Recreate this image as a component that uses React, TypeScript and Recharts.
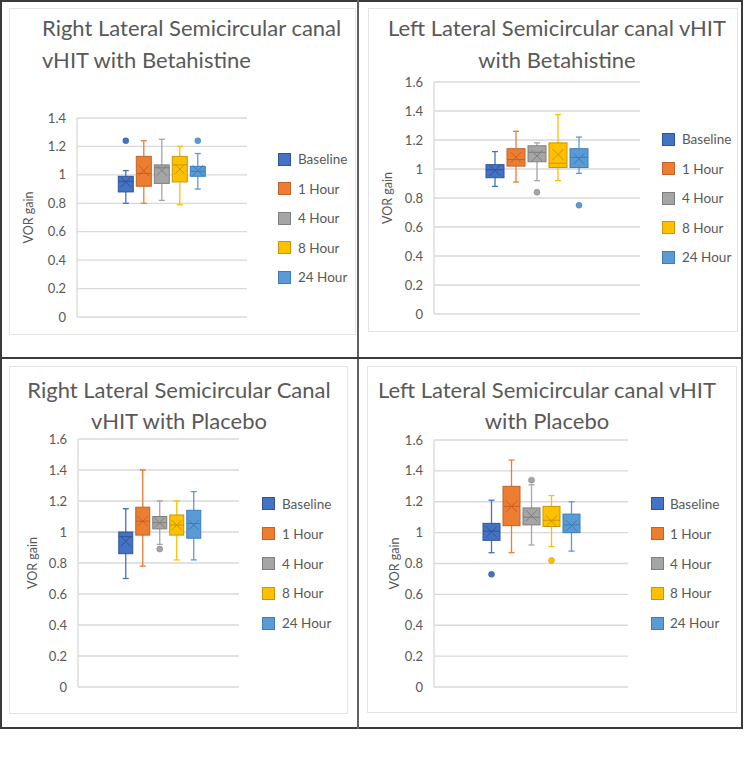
import React from 'react';
import { ComposedChart, Bar, XAxis, YAxis, CartesianGrid, Legend } from 'recharts';

const FONT = 'Lato, "Liberation Sans", sans-serif';
const TEXT = '#595959';
const GRID = '#D9D9D9';

const seriesNames = ['Baseline', '1 Hour', '4 Hour', '8 Hour', '24 Hour'];
const seriesColors = ['#4472C4', '#ED7D31', '#A5A5A5', '#FFC000', '#5B9BD5'];
const seriesEdges = ['#2F5597', '#C0622A', '#7F7F7F', '#C99700', '#3F7CB8'];

const ticks14 = [0, 0.2, 0.4, 0.6, 0.8, 1, 1.2, 1.4];
const ticks16 = [0, 0.2, 0.4, 0.6, 0.8, 1, 1.2, 1.4, 1.6];

// Right lateral canal, Betahistine
const rbLow = [0.8, 0.8, 0.82, 0.79, 0.9];
const rbQ1 = [0.88, 0.92, 0.94, 0.95, 0.99];
const rbMedian = [0.955, 1.01, 1.05, 1.07, 1.025];
const rbQ3 = [0.99, 1.13, 1.07, 1.13, 1.06];
const rbHigh = [1.03, 1.24, 1.25, 1.2, 1.15];
const rbMean = [0.95, 1.03, 1.03, 1.04, 1.03];
const rbOutliers = [[1.24], [], [], [], [1.24]];

// Left lateral canal, Betahistine
const lbLow = [0.88, 0.91, 0.92, 0.92, 0.97];
const lbQ1 = [0.94, 1.02, 1.05, 1.01, 1.01];
const lbMedian = [0.995, 1.065, 1.115, 1.04, 1.08];
const lbQ3 = [1.03, 1.14, 1.16, 1.18, 1.14];
const lbHigh = [1.12, 1.26, 1.18, 1.375, 1.22];
const lbMean = [0.99, 1.08, 1.09, 1.1, 1.07];
const lbOutliers = [[], [], [0.84], [], [0.75]];

// Right lateral canal, Placebo
const rpLow = [0.7, 0.78, 0.92, 0.82, 0.82];
const rpQ1 = [0.86, 0.98, 1.02, 0.98, 0.96];
const rpMedian = [0.97, 1.07, 1.06, 1.045, 1.055];
const rpQ3 = [1.0, 1.16, 1.1, 1.11, 1.14];
const rpHigh = [1.15, 1.4, 1.2, 1.2, 1.26];
const rpMean = [0.94, 1.07, 1.06, 1.045, 1.045];
const rpOutliers = [[], [], [0.89], [], []];

// Left lateral canal, Placebo
const lpLow = [0.87, 0.87, 0.92, 0.91, 0.88];
const lpQ1 = [0.95, 1.045, 1.05, 1.04, 1.0];
const lpMedian = [1.01, 1.17, 1.1, 1.08, 1.05];
const lpQ3 = [1.06, 1.3, 1.16, 1.17, 1.12];
const lpHigh = [1.21, 1.47, 1.31, 1.24, 1.2];
const lpMean = [1.005, 1.17, 1.11, 1.075, 1.045];
const lpOutliers = [[0.73], [], [1.34], [0.82], []];

type Stats = { low: number[]; q1: number[]; median: number[]; q3: number[]; high: number[]; mean: number[]; outliers: number[][] };

type Cfg = {
  stats: Stats;
  ticks: number[];
  yMax: number;
  area: { x: number; y: number; w: number; h: number };
  plot: { x1: number; x2: number; yTop: number; yBottom: number };
  gap: string;
  legend: { x: number; first: number; step: number; textGap: number };
  title: string[];
  titleAlign: 'left' | 'center';
  titleX: number;
  titleY: number[];
  yLabelX: number;
};

const YW = 40;

const panels: Cfg[] = [
  {
    stats: { low: rbLow, q1: rbQ1, median: rbMedian, q3: rbQ3, high: rbHigh, mean: rbMean, outliers: rbOutliers },
    ticks: ticks14,
    yMax: 1.4,
    area: { x: 9, y: 8, w: 347, h: 327 },
    plot: { x1: 77, x2: 247, yTop: 118, yBottom: 317 },
    gap: '24%',
    legend: { x: 278, first: 159, step: 29.5, textGap: 7 },
    title: ['Right Lateral Semicircular canal', 'vHIT with Betahistine'],
    titleAlign: 'left',
    titleX: 42,
    titleY: [28, 60],
    yLabelX: 28,
  },
  {
    stats: { low: lbLow, q1: lbQ1, median: lbMedian, q3: lbQ3, high: lbHigh, mean: lbMean, outliers: lbOutliers },
    ticks: ticks16,
    yMax: 1.6,
    area: { x: 368, y: 8, w: 370, h: 324 },
    plot: { x1: 434, x2: 640, yTop: 82, yBottom: 314 },
    gap: '25%',
    legend: { x: 662, first: 139, step: 29.5, textGap: 7 },
    title: ['Left Lateral Semicircular canal vHIT', 'with Betahistine'],
    titleAlign: 'center',
    titleX: 557,
    titleY: [28, 60],
    yLabelX: 387,
  },
  {
    stats: { low: rpLow, q1: rpQ1, median: rpMedian, q3: rpQ3, high: rpHigh, mean: rpMean, outliers: rpOutliers },
    ticks: ticks16,
    yMax: 1.6,
    area: { x: 9, y: 366, w: 339, h: 348 },
    plot: { x1: 78, x2: 239, yTop: 439, yBottom: 687 },
    gap: '25%',
    legend: { x: 262, first: 504, step: 29.8, textGap: 7 },
    title: ['Right Lateral Semicircular Canal', 'vHIT with Placebo'],
    titleAlign: 'center',
    titleX: 179,
    titleY: [390, 421],
    yLabelX: 32,
  },
  {
    stats: { low: lpLow, q1: lpQ1, median: lpMedian, q3: lpQ3, high: lpHigh, mean: lpMean, outliers: lpOutliers },
    ticks: ticks16,
    yMax: 1.6,
    area: { x: 367, y: 366, w: 370, h: 347 },
    plot: { x1: 434, x2: 628, yTop: 440, yBottom: 687 },
    gap: '25%',
    legend: { x: 651, first: 504, step: 29.8, textGap: 6 },
    title: ['Left Lateral Semicircular canal vHIT', 'with Placebo'],
    titleAlign: 'center',
    titleX: 547,
    titleY: [390, 421],
    yLabelX: 394,
  },
];

function makeBoxShape(stats: Stats, i: number) {
  return (props: any) => {
    const { x, y, width, height } = props;
    if (height == null || !isFinite(height) || height <= 0) return <g />;
    const v = stats.high[i];
    const base = y + height;
    const k = height / v;
    const py = (val: number) => base - val * k;
    const cx = x + width / 2;
    const color = seriesColors[i];
    const edge = seriesEdges[i];
    const capW = 3;
    const yHigh = py(stats.high[i]);
    const yLow = py(stats.low[i]);
    const yQ1 = py(stats.q1[i]);
    const yQ3 = py(stats.q3[i]);
    const yMed = py(stats.median[i]);
    const yMean = py(stats.mean[i]);
    const m = Math.min(5.5, width * 0.33);
    return (
      <g>
        <line x1={cx} x2={cx} y1={yHigh} y2={yQ3} stroke={color} strokeWidth={1.3} />
        <line x1={cx} x2={cx} y1={yQ1} y2={yLow} stroke={color} strokeWidth={1.3} />
        <line x1={cx - capW} x2={cx + capW} y1={yHigh} y2={yHigh} stroke={color} strokeWidth={1.3} />
        <line x1={cx - capW} x2={cx + capW} y1={yLow} y2={yLow} stroke={color} strokeWidth={1.3} />
        <rect x={x + 0.5} y={yQ3} width={width - 1} height={yQ1 - yQ3} fill={color} stroke={edge} strokeWidth={1} />
        <line x1={x + 0.5} x2={x + width - 0.5} y1={yMed} y2={yMed} stroke={edge} strokeWidth={1} />
        <line x1={cx - m} x2={cx + m} y1={yMean - m} y2={yMean + m} stroke={edge} strokeWidth={1} />
        <line x1={cx - m} x2={cx + m} y1={yMean + m} y2={yMean - m} stroke={edge} strokeWidth={1} />
        {stats.outliers[i].map((o, j) => (
          <circle key={j} cx={cx} cy={py(o)} r={3} fill={color} stroke={edge} strokeWidth={0.5} />
        ))}
      </g>
    );
  };
}

function Panel({ cfg }: { cfg: Cfg }) {
  const { area, plot } = cfg;
  const row: any = { name: '' };
  seriesNames.forEach((n, i) => {
    row[n] = cfg.stats.high[i];
  });
  const data = [row];
  const margin = {
    top: plot.yTop - area.y,
    bottom: area.y + area.h - plot.yBottom,
    left: plot.x1 - area.x - YW,
    right: area.x + area.w - plot.x2,
  };
  const legendContent = () => (
    <div style={{ position: 'relative', width: 90, height: cfg.legend.step * 5 }}>
      {seriesNames.map((n, i) => (
        <div
          key={n}
          style={{
            position: 'absolute',
            left: 0,
            top: i * cfg.legend.step,
            height: cfg.legend.step,
            display: 'flex',
            alignItems: 'center',
            whiteSpace: 'nowrap',
          }}
        >
          <span
            style={{
              display: 'inline-block',
              width: 13,
              height: 13,
              boxSizing: 'border-box',
              background: seriesColors[i],
              border: `1px solid ${seriesEdges[i]}`,
            }}
          />
          <span style={{ marginLeft: cfg.legend.textGap, fontSize: 13.5, color: TEXT, fontFamily: FONT }}>{n}</span>
        </div>
      ))}
    </div>
  );
  const yCenter = (plot.yTop + plot.yBottom) / 2 - area.y;
  const yLabel = () => (
    <text
      x={cfg.yLabelX - area.x}
      y={yCenter}
      transform={`rotate(-90 ${cfg.yLabelX - area.x} ${yCenter})`}
      textAnchor="middle"
      dominantBaseline="central"
      fill={TEXT}
      fontSize={12.5}
      fontFamily={FONT}
    >
      VOR gain
    </text>
  );
  return (
    <>
      <div
        style={{
          position: 'absolute',
          left: area.x,
          top: area.y,
          width: area.w,
          height: area.h,
          boxSizing: 'border-box',
          border: `1px solid #E4E4E4`,
        }}
      />
      {cfg.title.map((t, j) => (
        <div
          key={j}
          style={{
            position: 'absolute',
            left: cfg.titleAlign === 'left' ? cfg.titleX : cfg.titleX - 180,
            width: cfg.titleAlign === 'left' ? undefined : 360,
            top: cfg.titleY[j] - 14,
            height: 28,
            lineHeight: '28px',
            textAlign: cfg.titleAlign,
            fontFamily: FONT,
            fontSize: 22,
            color: TEXT,
            whiteSpace: 'nowrap',
          }}
        >
          {t}
        </div>
      ))}
      <div style={{ position: 'absolute', left: area.x, top: area.y }}>
        <ComposedChart width={area.w} height={area.h} data={data} margin={margin} barCategoryGap={cfg.gap} barGap={2}>
          <CartesianGrid horizontal vertical={false} stroke={GRID} strokeWidth={1.3} />
          <XAxis dataKey="name" hide />
          <YAxis
            width={YW}
            domain={[0, cfg.yMax]}
            ticks={cfg.ticks}
            interval={0}
            allowDataOverflow
            axisLine={{ stroke: GRID, strokeWidth: 1.3 }}
            tickLine={false}
            tickSize={0}
            tickMargin={11}
            tick={{ fill: TEXT, fontSize: 13, fontFamily: FONT }}
            tickFormatter={(v: number) => String(Number(v.toFixed(1)))}
            label={{ content: yLabel }}
          />
          <Legend
            layout="vertical"
            align="center"
            verticalAlign="middle"
            content={legendContent}
            wrapperStyle={{
              left: cfg.legend.x - area.x,
              top: cfg.legend.first - cfg.legend.step / 2 - area.y,
              width: 95,
            }}
          />
          {seriesNames.map((n, i) => (
            <Bar key={n} dataKey={n} fill={seriesColors[i]} isAnimationActive={false} shape={makeBoxShape(cfg.stats, i)} />
          ))}
        </ComposedChart>
      </div>
    </>
  );
}

export default function App() {
  const frame = '#3A3A3A';
  return (
    <div style={{ position: 'absolute', left: 0, top: 0, width: 750, height: 767, background: '#fff', overflow: 'hidden' }}>
      {panels.map((c, i) => (
        <Panel key={i} cfg={c} />
      ))}
      {/* table frame */}
      <div style={{ position: 'absolute', left: 0, top: 0, width: 743, height: 2, background: frame }} />
      <div style={{ position: 'absolute', left: 0, top: 727, width: 743, height: 2, background: frame }} />
      <div style={{ position: 'absolute', left: 0, top: 0, width: 2, height: 729, background: frame }} />
      <div style={{ position: 'absolute', left: 741, top: 0, width: 2, height: 729, background: frame }} />
      <div style={{ position: 'absolute', left: 357, top: 0, width: 2, height: 729, background: '#606060' }} />
      <div style={{ position: 'absolute', left: 0, top: 357, width: 743, height: 1.5, background: frame }} />
    </div>
  );
}
